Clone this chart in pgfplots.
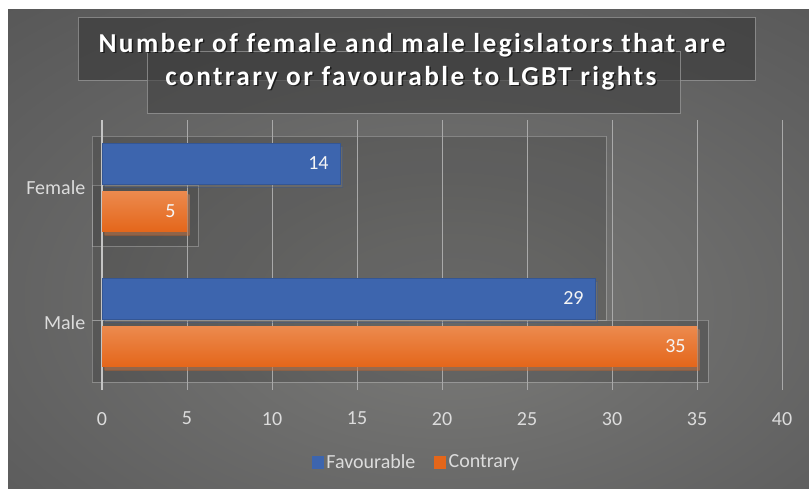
\documentclass[border=0pt]{standalone}
\usepackage{fontspec}
\setmainfont{Carlito}
\usepackage{pgfplots}
\pgfplotsset{compat=1.18}
\usetikzlibrary{shadows}
\definecolor{favblue}{HTML}{3D65AE}
\definecolor{contop}{HTML}{EC8A4E}
\definecolor{conbot}{HTML}{E4661A}
\definecolor{bgl}{HTML}{7A7A78}
\definecolor{bgm}{HTML}{606060}
\definecolor{bgd}{HTML}{3A3A3A}
\definecolor{lbl}{HTML}{DCDCDC}
\definecolor{gridc}{HTML}{A9A9A9}
\definecolor{zeroc}{HTML}{C4C4C4}
\pgfdeclareradialshading{bgshade}{\pgfpoint{3bp}{-8bp}}{color(0bp)=(bgl); color(30bp)=(bgm); color(75bp)=(bgd)}
\newcommand\titlefont{\fontsize{20.5}{24}\bfseries\addfontfeature{LetterSpace=8.8}}
\begin{document}
\begin{tikzpicture}
\begin{scope}[x=0.75pt,y=-0.75pt]
\useasboundingbox (0,0) rectangle (809,490);
\fill[white] (0,0) rectangle (809,490);
\shade[shading=bgshade] (8,9) rectangle (809,488);
\fill[black,opacity=0.13] (92,136) rectangle (606,320);
\draw[white,opacity=0.25,line width=0.6pt] (92,136) rectangle (606,320);
\fill[black,opacity=0.08] (92,185) rectangle (198,246);
\draw[white,opacity=0.25,line width=0.6pt] (92,185) rectangle (198,246);
\fill[black,opacity=0.15] (92,320) rectangle (708,382);
\draw[white,opacity=0.25,line width=0.6pt] (92,320) rectangle (708,382);
\coordinate (axsw) at (102,390);
\end{scope}
\begin{axis}[
  at={(axsw)}, anchor=south west,
  scale only axis, width=510pt, height=202.5pt,
  xbar,
  xmin=0, xmax=40, ymin=-0.5, ymax=1.5,
  xtick={0,5,...,40}, ytick={0,1}, yticklabels={Male,Female},
  xmajorgrids, grid style={gridc, line width=0.75pt},
  extra x ticks={0}, extra x tick labels={},
  extra x tick style={grid style={zeroc, line width=1.6pt}},
  axis line style={draw=none}, major tick length=0pt,
  tick label style={font=\fontsize{15}{18}\selectfont, text=lbl},
  /pgf/number format/assume math mode=true,
  xticklabel style={yshift=-13pt},
  yticklabel style={xshift=-9pt},
  bar width=30.4pt,
  nodes near coords,
  nodes near coords style={anchor=east, font=\fontsize{15}{18}\selectfont, text=white!92!gray, xshift=-5pt},
  legend style={at={(0.463,-0.267)}, anchor=center, draw=none, fill=none,
    legend columns=2, text=lbl, font=\fontsize{15}{18}\selectfont,
    /tikz/every even column/.append style={column sep=12pt}},
  clip=false
]
\addplot[forget plot, bar shift=18pt, fill=favblue, draw=favblue!85!black,
  drop shadow={opacity=0.35, shadow xshift=2pt, shadow yshift=-2.5pt}]
  coordinates {(14,1) (29,0)};
\addplot[forget plot, bar shift=-18pt, top color=contop, bottom color=conbot, draw=none,
  drop shadow={opacity=0.35, shadow xshift=2pt, shadow yshift=-2.5pt}]
  coordinates {(5,1)};
\addplot[forget plot, bar shift=-18pt, top color=contop, bottom color=conbot, draw=none,
  drop shadow={opacity=0.35, shadow xshift=2pt, shadow yshift=-2.5pt}]
  coordinates {(35,0)};
\addlegendimage{legend image code/.code={\fill[favblue] (0pt,-4.5pt) rectangle (8.5pt,4.5pt);}}
\addlegendimage{legend image code/.code={\fill[conbot] (0pt,-4.5pt) rectangle (8.5pt,4.5pt);}}
\legend{Favourable,Contrary}
\end{axis}
\begin{scope}[x=0.75pt,y=-0.75pt]
\fill[black!80,opacity=0.55] (78,17) rectangle (755,80);
\draw[gray!85!white,opacity=0.8,line width=0.6pt] (78,17) rectangle (755,80);
\fill[black!75,opacity=0.6] (147,51) rectangle (680,113);
\draw[gray!85!white,opacity=0.8,line width=0.6pt] (147,51) rectangle (680,113);
\node[text=black,opacity=0.6,font=\titlefont] at (413.5,46.5) {Number of female and male legislators that are};
\node[text=black,opacity=0.6,font=\titlefont] at (412.5,79.5) {contrary or favourable to LGBT rights};
\node[text=white,font=\titlefont] at (412,45) {Number of female and male legislators that are};
\node[text=white,font=\titlefont] at (411,78) {contrary or favourable to LGBT rights};
\end{scope}
\end{tikzpicture}
\end{document}
